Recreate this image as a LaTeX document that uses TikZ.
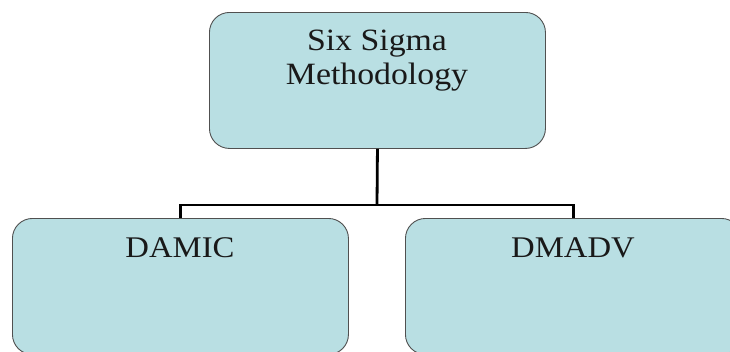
\documentclass[tikz,border=0pt]{standalone}
\usepackage{fontspec}
\setmainfont[FakeStretch=1.09]{Liberation Serif}
\definecolor{boxfill}{RGB}{185,223,227}
\definecolor{boxline}{RGB}{80,80,80}
\tikzset{
  box/.style={draw=boxline, line width=0.9pt, fill=boxfill, rounded corners=20pt,
    minimum width=336pt, minimum height=136pt, inner sep=0pt, anchor=north west},
  lbl/.style={anchor=base, inner sep=0pt, font=\fontsize{31}{33}\selectfont, text=black!90},
  conn/.style={line width=2.8pt, black}
}
\begin{document}
\begin{tikzpicture}[x=1pt,y=-1pt]
\useasboundingbox (0,0) rectangle (730,351);
\clip (0,0) rectangle (730,351);
\node[box] (top) at (209,12) {};
\node[box] (damic) at (12,218) {};
\node[box] (dmadv) at (405,218) {};
\node[lbl] (t1) at (377,50.7) {Six Sigma};
\node[lbl] (t2) at (377,84) {Methodology};
\node[lbl, font=\fontsize{30}{33}\selectfont] (l1) at (180,257) {DAMIC};
\node[lbl, font=\fontsize{30}{33}\selectfont] (l2) at (573,257) {DMADV};
\coordinate (j) at (377,205);
\draw[conn] (top.south) -- (j);
\draw[conn] (damic.north) |- (j) -| (dmadv.north);
\end{tikzpicture}
\end{document}
